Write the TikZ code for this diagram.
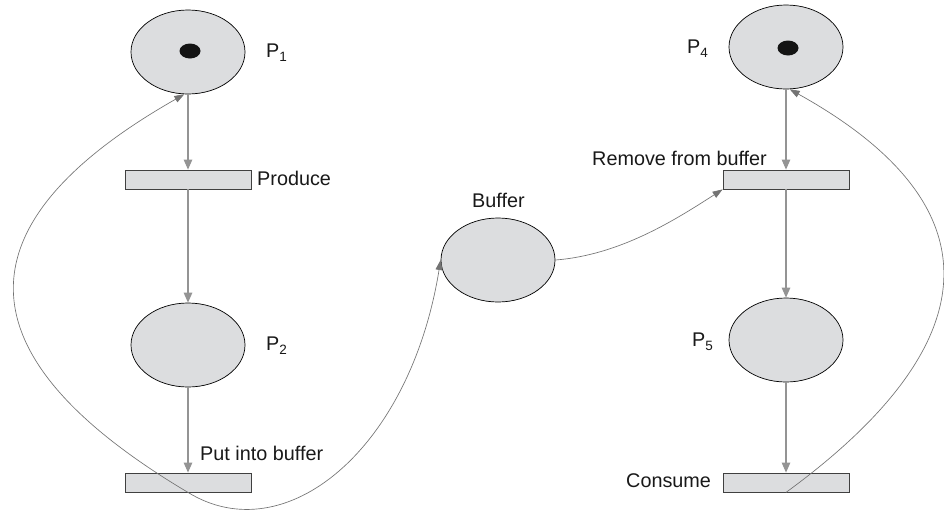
\documentclass[tikz,border=0pt]{standalone}
\usepackage{fontspec}
\setmainfont{Liberation Sans}
\usetikzlibrary{shapes.geometric,arrows.meta}
\definecolor{placegray}{HTML}{DCDDDF}
\newcommand{\pidx}[1]{\raisebox{-0.22em}{\fontsize{13.5}{13.5}\selectfont #1}}

\begin{document}
\begin{tikzpicture}[x=1pt,y=-1pt,
  place/.style={ellipse, draw=black, line width=0.7pt, fill=placegray,
    minimum width=114pt, minimum height=84pt, inner sep=0pt},
  trans/.style={rectangle, draw=black!75, line width=0.8pt, fill=placegray,
    minimum width=126pt, minimum height=19pt, inner sep=0pt},
  token/.style={ellipse, fill=black!92, minimum width=21pt, minimum height=15pt, inner sep=0pt},
  lbl/.style={anchor=base west, inner sep=0pt, font=\fontsize{19.8}{20}\selectfont, text=black!90},
  flow/.style={draw=black!42, line width=1.1pt, -{Triangle[length=10pt,width=8.5pt]}},
  curveflow/.style={draw=black!55, line width=0.65pt, -{Triangle[length=10pt,width=7pt]}}]

\fill[white] (0,0) rectangle (944,509);
\useasboundingbox (0,0) rectangle (944,509);

% places
\node[place] (p1) at (188,52) {};
\node[place] (p2) at (188,345) {};
\node[place] (buf) at (498,260) {};
\node[place] (p4) at (786,47) {};
\node[place] (p5) at (786,340) {};

% tokens
\node[token] (t1) at (190,51) {};
\node[token] (t4) at (788,48) {};

% transitions
\node[trans] (produce) at (188,179.5) {};
\node[trans] (put) at (188,482.5) {};
\node[trans] (remove) at (786,179.5) {};
\node[trans] (consume) at (786,482.5) {};

% labels
\node[lbl] (lp1) at (266,57) {P\pidx{1}};
\node[lbl] (lp2) at (266,350) {P\pidx{2}};
\node[lbl] (lp4) at (687,53) {P\pidx{4}};
\node[lbl] (lp5) at (692,346) {P\pidx{5}};
\node[lbl] (lprod) at (257,185) {Produce};
\node[lbl] (lput) at (200,460) {Put into buffer};
\node[lbl] (lbuf) at (472,207) {Buffer};
\node[lbl] (lrem) at (592,165) {Remove from buffer};
\node[lbl] (lcons) at (626,487) {Consume};

% straight arcs
\draw[flow] (p1.south) -- (produce.north);
\draw[flow] (produce.south) -- (p2.north);
\draw[flow] (p2.south) -- (put.north);
\draw[flow] (p4.south) -- (remove.north);
\draw[flow] (remove.south) -- (p5.north);
\draw[flow] (p5.south) -- (consume.north);

% curved arcs
\draw[curveflow] (put.south) .. controls (-40,357) and (-45.5,225) .. (p1.-95);
\draw[curveflow] (put.south) .. controls (285,552) and (410,450) .. (buf.west);
\draw[curveflow] (buf.east) .. controls (620,255) and (675,220) .. (remove.south west);
\draw[curveflow] (consume.south) .. controls (981,350) and (1007,210) .. (p4.-85);
\end{tikzpicture}
\end{document}
